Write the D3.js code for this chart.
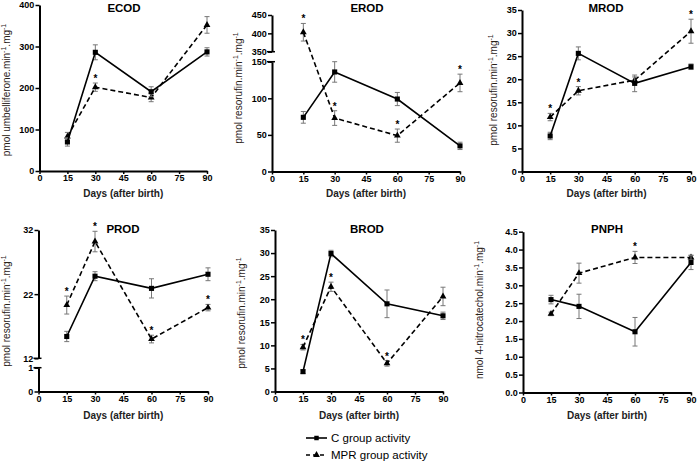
<!DOCTYPE html>
<html>
<head>
    <meta charset="utf-8">
    <title>CYP activities</title>
    <style>
        body { margin: 0; background: #fff; }
        text { font-family: "Liberation Sans", Arial, sans-serif; }
    </style>
</head>
<body>
<svg id="svg"></svg>
<script src="https://cdn.jsdelivr.net/npm/d3@7"></script>
<script>
    const days = [15, 30, 60, 90]
    const xTicks = [0, 15, 30, 45, 60, 75, 90]

    const ecodC = [70, 286, 191, 287], ecodCErr = [10, 18, 12, 10]
    const ecodM = [83, 202, 177, 352], ecodMErr = [10, 10, 10, 20]
    const ecodStar = [0, 1, 0, 0]

    const erodC = [74, 136, 99, 35], erodCErr = [8, 14, 9, 5]
    const erodM = [403, 73, 49, 121], erodMErr = [24, 10, 9, 12]
    const erodStar = [1, 1, 1, 1]

    const mrodC = [7.7, 25.6, 19.1, 22.7], mrodCErr = [0.8, 1.4, 1.8, 0.6]
    const mrodM = [11.8, 17.5, 19.8, 30.4], mrodMErr = [0.8, 0.9, 0.7, 2.6]
    const mrodStar = [1, 1, 0, 1]

    const prodC = [15.4, 24.8, 22.9, 25.1], prodCErr = [0.8, 0.7, 1.5, 1.0]
    const prodM = [20.3, 30.2, 15.0, 19.9], prodMErr = [1.4, 1.6, 0.6, 0.5]
    const prodStar = [1, 1, 1, 1]

    const brodC = [4.3, 29.9, 19.0, 16.4], brodCErr = [0.4, 0.7, 3.0, 0.8]
    const brodM = [9.6, 22.7, 6.1, 20.6], brodMErr = [0.6, 1.0, 0.6, 2.0]
    const brodStar = [1, 1, 1, 0]

    const pnphC = [2.60, 2.41, 1.70, 3.64], pnphCErr = [0.12, 0.34, 0.4, 0.2]
    const pnphM = [2.20, 3.34, 3.78, 3.78], pnphMErr = [0.05, 0.28, 0.17, 0.06]
    const pnphStar = [0, 0, 1, 0]

    const WIDTH = 700
    const HEIGHT = 463

    const svg = d3.select('svg')
        .attr('width', WIDTH)
        .attr('height', HEIGHT)

    // each panel: y segments [domainLo, domainHi, pxLo, pxHi, ticks]
    const panels = [
        {title: 'ECOD', unit: 'pmol umbelliferone', c: ecodC, cErr: ecodCErr, m: ecodM, mErr: ecodMErr, star: ecodStar,
            x0: 39.5, x1: 207, tx: 124, ty: 12, lx: 10, ly: 90, xlab: 197,
            segs: [[0, 400, 171, 5, [0, 100, 200, 300, 400]]]},
        {title: 'EROD', unit: 'pmol resorufin', c: erodC, cErr: erodCErr, m: erodM, mErr: erodMErr, star: erodStar,
            x0: 272, x1: 460, tx: 367, ty: 12, lx: 242, ly: 88, xlab: 197,
            segs: [[0, 150, 171.5, 61.7, [0, 50, 100, 150]], [350, 450, 51.7, 15, [350, 400, 450]]]},
        {title: 'MROD', unit: 'pmol resorufin', c: mrodC, cErr: mrodCErr, m: mrodM, mErr: mrodMErr, star: mrodStar,
            x0: 522, x1: 691, tx: 606, ty: 12, lx: 497, ly: 90, xlab: 197,
            segs: [[0, 35, 171.5, 10, d3.range(0, 36, 5)]]},
        {title: 'PROD', unit: 'pmol resorufin', c: prodC, cErr: prodCErr, m: prodM, mErr: prodMErr, star: prodStar,
            x0: 38.5, x1: 208, tx: 123, ty: 233, lx: 10, ly: 311, xlab: 418.5,
            segs: [[0, 1, 391.5, 367.7, [0, 1]], [12, 32, 358.3, 230, [12, 22, 32]]]},
        {title: 'BROD', unit: 'pmol resorufin', c: brodC, cErr: brodCErr, m: brodM, mErr: brodMErr, star: brodStar,
            x0: 275, x1: 443, tx: 367, ty: 233, lx: 245, ly: 313, xlab: 418.5,
            segs: [[0, 35, 391.5, 230, d3.range(0, 36, 5)]]},
        {title: 'PNPH', unit: 'nmol 4-nitrocatechol', c: pnphC, cErr: pnphCErr, m: pnphM, mErr: pnphMErr, star: pnphStar,
            x0: 523, x1: 691, tx: 607, ty: 233, lx: 483, ly: 310, xlab: 418.5, fmt: '.1f',
            segs: [[0, 4.5, 392.5, 231.7, d3.range(0, 4.51, 0.5)]]}
    ]

    const drawPanel = (p) => {
        const g = svg.append('g')
        const yBottom = p.segs[0][2]
        const x = d3.scaleLinear().domain([0, 90]).range([p.x0, p.x1])

        // piecewise y scale across the axis break
        const dom = [], rng = []
        p.segs.forEach(s => { dom.push(s[0], s[1]); rng.push(s[2], s[3]) })
        const y = d3.scaleLinear().domain(dom).range(rng)

        // x axis
        const xa = g.append('g')
            .attr('transform', `translate(0,${yBottom})`)
            .call(d3.axisBottom(x).tickValues(xTicks).tickSize(3).tickPadding(1).tickSizeOuter(0))
        xa.select('.domain').attr('stroke-width', 2)
        xa.selectAll('.tick line').attr('stroke-width', 1.5)
        xa.selectAll('text').attr('font-size', 9).attr('font-weight', 'bold')

        // y axis, one piece per segment
        const fmt = p.fmt ? d3.format(p.fmt) : d3.format('d')
        p.segs.forEach(s => {
            const ys = d3.scaleLinear().domain([s[0], s[1]]).range([s[2], s[3]])
            const ya = g.append('g')
                .attr('transform', `translate(${p.x0},0)`)
                .call(d3.axisLeft(ys).tickValues(s[4]).tickFormat(fmt).tickSize(4).tickSizeOuter(0))
            ya.select('.domain').attr('stroke-width', 2)
            ya.selectAll('.tick line').attr('stroke-width', 1.5)
            ya.selectAll('text').attr('font-size', 9).attr('font-weight', 'bold').attr('dx', '0.2em')
        })
        if (p.segs.length > 1) {
            // break marks
            p.segs.forEach((s, i) => {
                const yy = i === 0 ? s[3] : s[2]
                g.append('line')
                    .attr('x1', p.x0 - 5).attr('x2', p.x0 + 3)
                    .attr('y1', yy).attr('y2', yy)
                    .attr('stroke', '#000').attr('stroke-width', 1.5)
            })
        }

        // titles and labels
        g.append('text')
            .attr('x', p.tx).attr('y', p.ty)
            .attr('text-anchor', 'middle')
            .attr('font-size', 11.5).attr('font-weight', 'bold')
            .text(p.title)

        g.append('text')
            .attr('x', (p.x0 + p.x1) / 2).attr('y', p.xlab)
            .attr('text-anchor', 'middle')
            .attr('font-size', 10).attr('font-weight', 'bold')
            .attr('fill', '#222')
            .text('Days (after birth)')

        const yl = g.append('text')
            .attr('transform', `translate(${p.lx},${p.ly}) rotate(-90)`)
            .attr('text-anchor', 'middle')
            .attr('font-size', 10)
            .attr('fill', '#2a2118')
        yl.append('tspan').text(p.unit + '.min')
        yl.append('tspan').attr('dy', -4).attr('font-size', 7).text('-1')
        yl.append('tspan').attr('dy', 4).text('.mg')
        yl.append('tspan').attr('dy', -4).attr('font-size', 7).text('-1')

        const line = d3.line().x((d, i) => x(days[i])).y(d => y(d))

        const series = [
            {v: p.m, e: p.mErr, dash: '5,3', shape: d3.symbolTriangle},
            {v: p.c, e: p.cErr, dash: null, shape: d3.symbolSquare}
        ]

        series.forEach(s => {
            // error bars
            const eb = g.append('g').selectAll('g').data(s.v).enter().append('g')
            eb.append('line')
                .attr('x1', (d, i) => x(days[i])).attr('x2', (d, i) => x(days[i]))
                .attr('y1', (d, i) => y(d - s.e[i])).attr('y2', (d, i) => y(d + s.e[i]))
                .attr('stroke', '#777').attr('stroke-width', 1)
            ;[-1, 1].forEach(sign => {
                eb.append('line')
                    .attr('x1', (d, i) => x(days[i]) - 2.5).attr('x2', (d, i) => x(days[i]) + 2.5)
                    .attr('y1', (d, i) => y(d + sign * s.e[i])).attr('y2', (d, i) => y(d + sign * s.e[i]))
                    .attr('stroke', '#777').attr('stroke-width', 1)
            })

            g.append('path')
                .datum(s.v)
                .attr('d', line)
                .attr('fill', 'none')
                .attr('stroke', '#000')
                .attr('stroke-width', 1.6)
                .attr('stroke-dasharray', s.dash)

            g.append('g').selectAll('path').data(s.v).enter().append('path')
                .attr('d', d3.symbol().type(s.shape).size(s.shape === d3.symbolSquare ? 26 : 20))
                .attr('transform', (d, i) => `translate(${x(days[i])},${y(d)})`)
                .attr('fill', '#000')
        })

        // significance stars
        g.append('g').selectAll('text').data(days).enter()
            .filter((d, i) => p.star[i])
            .append('text')
            .attr('x', d => x(d))
            .attr('y', d => { const i = days.indexOf(d); return y(p.m[i] + p.mErr[i]) - 1 })
            .attr('text-anchor', 'middle')
            .attr('font-size', 10).attr('font-weight', 'bold')
            .text('*')
    }

    panels.forEach(drawPanel)

    // legend
    const legend = svg.append('g')
    const legendItems = [
        {label: 'C group activity', dash: null, shape: d3.symbolSquare, y: 438},
        {label: 'MPR group activity', dash: '4,3', shape: d3.symbolTriangle, y: 455}
    ]
    legendItems.forEach(it => {
        legend.append('line')
            .attr('x1', 306).attr('x2', 327)
            .attr('y1', it.y).attr('y2', it.y)
            .attr('stroke', '#000').attr('stroke-width', 1.6)
            .attr('stroke-dasharray', it.dash)
        legend.append('path')
            .attr('d', d3.symbol().type(it.shape).size(20))
            .attr('transform', `translate(316.5,${it.y})`)
        legend.append('text')
            .attr('x', 331).attr('y', it.y + 4)
            .attr('font-size', 11.5)
            .text(it.label)
    })
</script>
</body>
</html>
